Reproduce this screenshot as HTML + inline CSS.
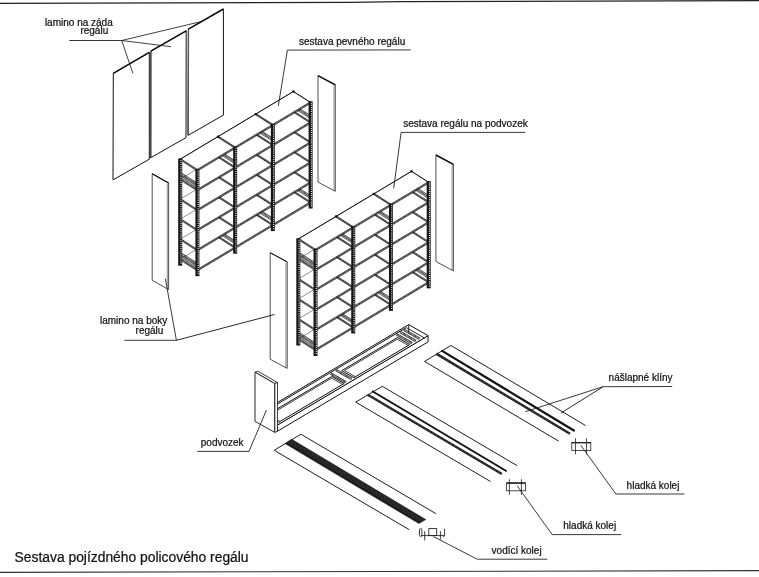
<!DOCTYPE html>
<html><head><meta charset="utf-8"><style>
html,body{margin:0;padding:0;background:#fff;}
svg{display:block;}
text{will-change:transform;}
text{font-family:"Liberation Sans",sans-serif;fill:#111;stroke:#111;stroke-width:0.22px;}
</style></head><body>
<svg width="759" height="577" viewBox="0 0 759 577">
<rect width="759" height="577" fill="#fff"/>
<polyline points="0.00,3.30 350.00,2.40 400.00,1.70 759.00,0.60" fill="none" stroke="#222" stroke-width="1.2" />
<polyline points="0.00,572.40 759.00,570.60" fill="none" stroke="#333" stroke-width="1.1" />
<polygon points="113.30,73.30 149.30,52.40 149.30,159.20 113.00,179.90" fill="#fff" stroke="#111" stroke-width="1.0" stroke-linejoin="round" />
<line x1="113.30" y1="73.30" x2="149.30" y2="52.40" stroke="#111" stroke-width="1.5" />
<polygon points="150.80,51.20 186.20,30.80 186.00,137.60 150.60,157.80" fill="#fff" stroke="#111" stroke-width="1.0" stroke-linejoin="round" />
<line x1="150.80" y1="51.20" x2="186.20" y2="30.80" stroke="#111" stroke-width="1.5" />
<line x1="150.90" y1="52.00" x2="150.90" y2="157.00" stroke="#555" stroke-width="1.3" />
<polygon points="188.40,29.10 223.40,9.00 223.40,115.10 188.00,135.40" fill="#fff" stroke="#111" stroke-width="1.0" stroke-linejoin="round" />
<line x1="188.40" y1="29.10" x2="223.40" y2="9.00" stroke="#111" stroke-width="1.5" />
<line x1="188.50" y1="30.00" x2="188.20" y2="135.00" stroke="#555" stroke-width="1.3" />
<polygon points="152.20,173.70 168.60,183.10 168.60,289.60 152.20,280.20" fill="#fff" stroke="#222" stroke-width="0.8" stroke-linejoin="round" />
<line x1="167.30" y1="183.60" x2="167.30" y2="289.10" stroke="#444" stroke-width="0.6" />
<line x1="152.20" y1="173.70" x2="168.60" y2="183.10" stroke="#111" stroke-width="1.1" />
<polygon points="318.00,75.60 335.30,84.80 335.30,191.30 318.00,182.10" fill="#fff" stroke="#222" stroke-width="0.8" stroke-linejoin="round" />
<line x1="334.00" y1="85.30" x2="334.00" y2="190.80" stroke="#444" stroke-width="0.6" />
<line x1="318.00" y1="75.60" x2="335.30" y2="84.80" stroke="#111" stroke-width="1.5" />
<polygon points="197.40,270.20 235.13,247.64 217.93,236.64 180.20,259.20" fill="#fff" stroke="#333" stroke-width="0.55" stroke-linejoin="round" />
<polygon points="235.13,247.64 272.86,225.08 255.66,214.08 217.93,236.64" fill="#fff" stroke="#333" stroke-width="0.55" stroke-linejoin="round" />
<polygon points="272.86,225.08 310.59,202.52 293.39,191.52 255.66,214.08" fill="#fff" stroke="#333" stroke-width="0.55" stroke-linejoin="round" />
<line x1="197.40" y1="270.20" x2="180.20" y2="259.20" stroke="#333" stroke-width="0.9099999999999999" stroke-dasharray="0.7 0.7"/>
<line x1="197.75" y1="269.65" x2="180.55" y2="258.65" stroke="#111" stroke-width="0.7" />
<line x1="197.05" y1="270.75" x2="179.85" y2="259.75" stroke="#111" stroke-width="0.7" />
<line x1="235.13" y1="247.64" x2="217.93" y2="236.64" stroke="#333" stroke-width="0.9099999999999999" stroke-dasharray="0.7 0.7"/>
<line x1="235.48" y1="247.09" x2="218.28" y2="236.09" stroke="#111" stroke-width="0.7" />
<line x1="234.78" y1="248.19" x2="217.58" y2="237.19" stroke="#111" stroke-width="0.7" />
<line x1="272.86" y1="225.08" x2="255.66" y2="214.08" stroke="#333" stroke-width="0.9099999999999999" stroke-dasharray="0.7 0.7"/>
<line x1="273.21" y1="224.53" x2="256.01" y2="213.53" stroke="#111" stroke-width="0.7" />
<line x1="272.51" y1="225.63" x2="255.31" y2="214.63" stroke="#111" stroke-width="0.7" />
<line x1="310.59" y1="202.52" x2="293.39" y2="191.52" stroke="#333" stroke-width="0.9099999999999999" stroke-dasharray="0.7 0.7"/>
<line x1="310.94" y1="201.97" x2="293.74" y2="190.97" stroke="#111" stroke-width="0.7" />
<line x1="310.24" y1="203.07" x2="293.04" y2="192.07" stroke="#111" stroke-width="0.7" />
<line x1="197.40" y1="270.20" x2="235.13" y2="247.64" stroke="#333" stroke-width="1.0499999999999998" stroke-dasharray="0.7 0.7"/>
<line x1="197.78" y1="270.84" x2="235.51" y2="248.28" stroke="#111" stroke-width="0.7" />
<line x1="197.02" y1="269.56" x2="234.75" y2="247.00" stroke="#111" stroke-width="0.7" />
<line x1="235.13" y1="247.64" x2="272.86" y2="225.08" stroke="#333" stroke-width="1.0499999999999998" stroke-dasharray="0.7 0.7"/>
<line x1="235.51" y1="248.28" x2="273.24" y2="225.72" stroke="#111" stroke-width="0.7" />
<line x1="234.75" y1="247.00" x2="272.48" y2="224.44" stroke="#111" stroke-width="0.7" />
<line x1="272.86" y1="225.08" x2="310.59" y2="202.52" stroke="#333" stroke-width="1.0499999999999998" stroke-dasharray="0.7 0.7"/>
<line x1="273.24" y1="225.72" x2="310.97" y2="203.16" stroke="#111" stroke-width="0.7" />
<line x1="272.48" y1="224.44" x2="310.21" y2="201.88" stroke="#111" stroke-width="0.7" />
<line x1="197.40" y1="264.20" x2="180.20" y2="253.20" stroke="#222" stroke-width="1.26" stroke-dasharray="0.7 0.7"/>
<line x1="197.88" y1="263.44" x2="180.68" y2="252.44" stroke="#111" stroke-width="0.7" />
<line x1="196.92" y1="264.96" x2="179.72" y2="253.96" stroke="#111" stroke-width="0.7" />
<line x1="197.40" y1="267.20" x2="180.20" y2="256.20" stroke="#444" stroke-width="1.26" stroke-dasharray="0.7 0.7"/>
<line x1="197.88" y1="266.44" x2="180.68" y2="255.44" stroke="#111" stroke-width="0.6" />
<line x1="196.92" y1="267.96" x2="179.72" y2="256.96" stroke="#111" stroke-width="0.6" />
<line x1="235.13" y1="241.64" x2="217.93" y2="230.64" stroke="#222" stroke-width="1.1199999999999999" stroke-dasharray="0.7 0.7"/>
<line x1="235.56" y1="240.97" x2="218.36" y2="229.97" stroke="#111" stroke-width="0.7" />
<line x1="234.70" y1="242.31" x2="217.50" y2="231.31" stroke="#111" stroke-width="0.7" />
<line x1="235.13" y1="243.84" x2="217.93" y2="232.84" stroke="#111" stroke-width="0.7" />
<line x1="272.86" y1="219.08" x2="255.66" y2="208.08" stroke="#222" stroke-width="1.1199999999999999" stroke-dasharray="0.7 0.7"/>
<line x1="273.29" y1="218.41" x2="256.09" y2="207.41" stroke="#111" stroke-width="0.7" />
<line x1="272.43" y1="219.75" x2="255.23" y2="208.75" stroke="#111" stroke-width="0.7" />
<line x1="272.86" y1="221.28" x2="255.66" y2="210.28" stroke="#111" stroke-width="0.7" />
<line x1="310.59" y1="196.52" x2="293.39" y2="185.52" stroke="#222" stroke-width="1.1199999999999999" stroke-dasharray="0.7 0.7"/>
<line x1="311.02" y1="195.85" x2="293.82" y2="184.85" stroke="#111" stroke-width="0.7" />
<line x1="310.16" y1="197.19" x2="292.96" y2="186.19" stroke="#111" stroke-width="0.7" />
<line x1="310.59" y1="198.72" x2="293.39" y2="187.72" stroke="#111" stroke-width="0.7" />
<polygon points="197.40,250.20 235.13,227.64 217.93,216.64 180.20,239.20" fill="#fff" stroke="#333" stroke-width="0.55" stroke-linejoin="round" />
<polygon points="235.13,227.64 272.86,205.08 255.66,194.08 217.93,216.64" fill="#fff" stroke="#333" stroke-width="0.55" stroke-linejoin="round" />
<polygon points="272.86,205.08 310.59,182.52 293.39,171.52 255.66,194.08" fill="#fff" stroke="#333" stroke-width="0.55" stroke-linejoin="round" />
<line x1="197.40" y1="250.20" x2="180.20" y2="239.20" stroke="#333" stroke-width="0.9099999999999999" stroke-dasharray="0.7 0.7"/>
<line x1="197.75" y1="249.65" x2="180.55" y2="238.65" stroke="#111" stroke-width="0.7" />
<line x1="197.05" y1="250.75" x2="179.85" y2="239.75" stroke="#111" stroke-width="0.7" />
<line x1="235.13" y1="227.64" x2="217.93" y2="216.64" stroke="#333" stroke-width="0.9099999999999999" stroke-dasharray="0.7 0.7"/>
<line x1="235.48" y1="227.09" x2="218.28" y2="216.09" stroke="#111" stroke-width="0.7" />
<line x1="234.78" y1="228.19" x2="217.58" y2="217.19" stroke="#111" stroke-width="0.7" />
<line x1="272.86" y1="205.08" x2="255.66" y2="194.08" stroke="#333" stroke-width="0.9099999999999999" stroke-dasharray="0.7 0.7"/>
<line x1="273.21" y1="204.53" x2="256.01" y2="193.53" stroke="#111" stroke-width="0.7" />
<line x1="272.51" y1="205.63" x2="255.31" y2="194.63" stroke="#111" stroke-width="0.7" />
<line x1="310.59" y1="182.52" x2="293.39" y2="171.52" stroke="#333" stroke-width="0.9099999999999999" stroke-dasharray="0.7 0.7"/>
<line x1="310.94" y1="181.97" x2="293.74" y2="170.97" stroke="#111" stroke-width="0.7" />
<line x1="310.24" y1="183.07" x2="293.04" y2="172.07" stroke="#111" stroke-width="0.7" />
<line x1="197.40" y1="250.20" x2="235.13" y2="227.64" stroke="#333" stroke-width="1.0499999999999998" stroke-dasharray="0.7 0.7"/>
<line x1="197.78" y1="250.84" x2="235.51" y2="228.28" stroke="#111" stroke-width="0.7" />
<line x1="197.02" y1="249.56" x2="234.75" y2="227.00" stroke="#111" stroke-width="0.7" />
<line x1="235.13" y1="227.64" x2="272.86" y2="205.08" stroke="#333" stroke-width="1.0499999999999998" stroke-dasharray="0.7 0.7"/>
<line x1="235.51" y1="228.28" x2="273.24" y2="205.72" stroke="#111" stroke-width="0.7" />
<line x1="234.75" y1="227.00" x2="272.48" y2="204.44" stroke="#111" stroke-width="0.7" />
<line x1="272.86" y1="205.08" x2="310.59" y2="182.52" stroke="#333" stroke-width="1.0499999999999998" stroke-dasharray="0.7 0.7"/>
<line x1="273.24" y1="205.72" x2="310.97" y2="183.16" stroke="#111" stroke-width="0.7" />
<line x1="272.48" y1="204.44" x2="310.21" y2="181.88" stroke="#111" stroke-width="0.7" />
<polygon points="197.40,230.20 235.13,207.64 217.93,196.64 180.20,219.20" fill="#fff" stroke="#333" stroke-width="0.55" stroke-linejoin="round" />
<polygon points="235.13,207.64 272.86,185.08 255.66,174.08 217.93,196.64" fill="#fff" stroke="#333" stroke-width="0.55" stroke-linejoin="round" />
<polygon points="272.86,185.08 310.59,162.52 293.39,151.52 255.66,174.08" fill="#fff" stroke="#333" stroke-width="0.55" stroke-linejoin="round" />
<line x1="197.40" y1="230.20" x2="180.20" y2="219.20" stroke="#333" stroke-width="0.9099999999999999" stroke-dasharray="0.7 0.7"/>
<line x1="197.75" y1="229.65" x2="180.55" y2="218.65" stroke="#111" stroke-width="0.7" />
<line x1="197.05" y1="230.75" x2="179.85" y2="219.75" stroke="#111" stroke-width="0.7" />
<line x1="235.13" y1="207.64" x2="217.93" y2="196.64" stroke="#333" stroke-width="0.9099999999999999" stroke-dasharray="0.7 0.7"/>
<line x1="235.48" y1="207.09" x2="218.28" y2="196.09" stroke="#111" stroke-width="0.7" />
<line x1="234.78" y1="208.19" x2="217.58" y2="197.19" stroke="#111" stroke-width="0.7" />
<line x1="272.86" y1="185.08" x2="255.66" y2="174.08" stroke="#333" stroke-width="0.9099999999999999" stroke-dasharray="0.7 0.7"/>
<line x1="273.21" y1="184.53" x2="256.01" y2="173.53" stroke="#111" stroke-width="0.7" />
<line x1="272.51" y1="185.63" x2="255.31" y2="174.63" stroke="#111" stroke-width="0.7" />
<line x1="310.59" y1="162.52" x2="293.39" y2="151.52" stroke="#333" stroke-width="0.9099999999999999" stroke-dasharray="0.7 0.7"/>
<line x1="310.94" y1="161.97" x2="293.74" y2="150.97" stroke="#111" stroke-width="0.7" />
<line x1="310.24" y1="163.07" x2="293.04" y2="152.07" stroke="#111" stroke-width="0.7" />
<line x1="197.40" y1="230.20" x2="235.13" y2="207.64" stroke="#333" stroke-width="1.0499999999999998" stroke-dasharray="0.7 0.7"/>
<line x1="197.78" y1="230.84" x2="235.51" y2="208.28" stroke="#111" stroke-width="0.7" />
<line x1="197.02" y1="229.56" x2="234.75" y2="207.00" stroke="#111" stroke-width="0.7" />
<line x1="235.13" y1="207.64" x2="272.86" y2="185.08" stroke="#333" stroke-width="1.0499999999999998" stroke-dasharray="0.7 0.7"/>
<line x1="235.51" y1="208.28" x2="273.24" y2="185.72" stroke="#111" stroke-width="0.7" />
<line x1="234.75" y1="207.00" x2="272.48" y2="184.44" stroke="#111" stroke-width="0.7" />
<line x1="272.86" y1="185.08" x2="310.59" y2="162.52" stroke="#333" stroke-width="1.0499999999999998" stroke-dasharray="0.7 0.7"/>
<line x1="273.24" y1="185.72" x2="310.97" y2="163.16" stroke="#111" stroke-width="0.7" />
<line x1="272.48" y1="184.44" x2="310.21" y2="161.88" stroke="#111" stroke-width="0.7" />
<polygon points="197.40,210.20 235.13,187.64 217.93,176.64 180.20,199.20" fill="#fff" stroke="#333" stroke-width="0.55" stroke-linejoin="round" />
<polygon points="235.13,187.64 272.86,165.08 255.66,154.08 217.93,176.64" fill="#fff" stroke="#333" stroke-width="0.55" stroke-linejoin="round" />
<polygon points="272.86,165.08 310.59,142.52 293.39,131.52 255.66,154.08" fill="#fff" stroke="#333" stroke-width="0.55" stroke-linejoin="round" />
<line x1="197.40" y1="210.20" x2="180.20" y2="199.20" stroke="#333" stroke-width="0.9099999999999999" stroke-dasharray="0.7 0.7"/>
<line x1="197.75" y1="209.65" x2="180.55" y2="198.65" stroke="#111" stroke-width="0.7" />
<line x1="197.05" y1="210.75" x2="179.85" y2="199.75" stroke="#111" stroke-width="0.7" />
<line x1="235.13" y1="187.64" x2="217.93" y2="176.64" stroke="#333" stroke-width="0.9099999999999999" stroke-dasharray="0.7 0.7"/>
<line x1="235.48" y1="187.09" x2="218.28" y2="176.09" stroke="#111" stroke-width="0.7" />
<line x1="234.78" y1="188.19" x2="217.58" y2="177.19" stroke="#111" stroke-width="0.7" />
<line x1="272.86" y1="165.08" x2="255.66" y2="154.08" stroke="#333" stroke-width="0.9099999999999999" stroke-dasharray="0.7 0.7"/>
<line x1="273.21" y1="164.53" x2="256.01" y2="153.53" stroke="#111" stroke-width="0.7" />
<line x1="272.51" y1="165.63" x2="255.31" y2="154.63" stroke="#111" stroke-width="0.7" />
<line x1="310.59" y1="142.52" x2="293.39" y2="131.52" stroke="#333" stroke-width="0.9099999999999999" stroke-dasharray="0.7 0.7"/>
<line x1="310.94" y1="141.97" x2="293.74" y2="130.97" stroke="#111" stroke-width="0.7" />
<line x1="310.24" y1="143.07" x2="293.04" y2="132.07" stroke="#111" stroke-width="0.7" />
<line x1="197.40" y1="210.20" x2="235.13" y2="187.64" stroke="#333" stroke-width="1.0499999999999998" stroke-dasharray="0.7 0.7"/>
<line x1="197.78" y1="210.84" x2="235.51" y2="188.28" stroke="#111" stroke-width="0.7" />
<line x1="197.02" y1="209.56" x2="234.75" y2="187.00" stroke="#111" stroke-width="0.7" />
<line x1="235.13" y1="187.64" x2="272.86" y2="165.08" stroke="#333" stroke-width="1.0499999999999998" stroke-dasharray="0.7 0.7"/>
<line x1="235.51" y1="188.28" x2="273.24" y2="165.72" stroke="#111" stroke-width="0.7" />
<line x1="234.75" y1="187.00" x2="272.48" y2="164.44" stroke="#111" stroke-width="0.7" />
<line x1="272.86" y1="165.08" x2="310.59" y2="142.52" stroke="#333" stroke-width="1.0499999999999998" stroke-dasharray="0.7 0.7"/>
<line x1="273.24" y1="165.72" x2="310.97" y2="143.16" stroke="#111" stroke-width="0.7" />
<line x1="272.48" y1="164.44" x2="310.21" y2="141.88" stroke="#111" stroke-width="0.7" />
<polygon points="197.40,190.20 235.13,167.64 217.93,156.64 180.20,179.20" fill="#fff" stroke="#333" stroke-width="0.55" stroke-linejoin="round" />
<polygon points="235.13,167.64 272.86,145.08 255.66,134.08 217.93,156.64" fill="#fff" stroke="#333" stroke-width="0.55" stroke-linejoin="round" />
<polygon points="272.86,145.08 310.59,122.52 293.39,111.52 255.66,134.08" fill="#fff" stroke="#333" stroke-width="0.55" stroke-linejoin="round" />
<line x1="197.40" y1="190.20" x2="180.20" y2="179.20" stroke="#333" stroke-width="0.9099999999999999" stroke-dasharray="0.7 0.7"/>
<line x1="197.75" y1="189.65" x2="180.55" y2="178.65" stroke="#111" stroke-width="0.7" />
<line x1="197.05" y1="190.75" x2="179.85" y2="179.75" stroke="#111" stroke-width="0.7" />
<line x1="235.13" y1="167.64" x2="217.93" y2="156.64" stroke="#333" stroke-width="0.9099999999999999" stroke-dasharray="0.7 0.7"/>
<line x1="235.48" y1="167.09" x2="218.28" y2="156.09" stroke="#111" stroke-width="0.7" />
<line x1="234.78" y1="168.19" x2="217.58" y2="157.19" stroke="#111" stroke-width="0.7" />
<line x1="272.86" y1="145.08" x2="255.66" y2="134.08" stroke="#333" stroke-width="0.9099999999999999" stroke-dasharray="0.7 0.7"/>
<line x1="273.21" y1="144.53" x2="256.01" y2="133.53" stroke="#111" stroke-width="0.7" />
<line x1="272.51" y1="145.63" x2="255.31" y2="134.63" stroke="#111" stroke-width="0.7" />
<line x1="310.59" y1="122.52" x2="293.39" y2="111.52" stroke="#333" stroke-width="0.9099999999999999" stroke-dasharray="0.7 0.7"/>
<line x1="310.94" y1="121.97" x2="293.74" y2="110.97" stroke="#111" stroke-width="0.7" />
<line x1="310.24" y1="123.07" x2="293.04" y2="112.07" stroke="#111" stroke-width="0.7" />
<line x1="197.40" y1="190.20" x2="235.13" y2="167.64" stroke="#333" stroke-width="1.0499999999999998" stroke-dasharray="0.7 0.7"/>
<line x1="197.78" y1="190.84" x2="235.51" y2="168.28" stroke="#111" stroke-width="0.7" />
<line x1="197.02" y1="189.56" x2="234.75" y2="167.00" stroke="#111" stroke-width="0.7" />
<line x1="235.13" y1="167.64" x2="272.86" y2="145.08" stroke="#333" stroke-width="1.0499999999999998" stroke-dasharray="0.7 0.7"/>
<line x1="235.51" y1="168.28" x2="273.24" y2="145.72" stroke="#111" stroke-width="0.7" />
<line x1="234.75" y1="167.00" x2="272.48" y2="144.44" stroke="#111" stroke-width="0.7" />
<line x1="272.86" y1="145.08" x2="310.59" y2="122.52" stroke="#333" stroke-width="1.0499999999999998" stroke-dasharray="0.7 0.7"/>
<line x1="273.24" y1="145.72" x2="310.97" y2="123.16" stroke="#111" stroke-width="0.7" />
<line x1="272.48" y1="144.44" x2="310.21" y2="121.88" stroke="#111" stroke-width="0.7" />
<line x1="197.40" y1="184.20" x2="180.20" y2="173.20" stroke="#222" stroke-width="1.26" stroke-dasharray="0.7 0.7"/>
<line x1="197.88" y1="183.44" x2="180.68" y2="172.44" stroke="#111" stroke-width="0.7" />
<line x1="196.92" y1="184.96" x2="179.72" y2="173.96" stroke="#111" stroke-width="0.7" />
<line x1="197.40" y1="187.20" x2="180.20" y2="176.20" stroke="#444" stroke-width="1.26" stroke-dasharray="0.7 0.7"/>
<line x1="197.88" y1="186.44" x2="180.68" y2="175.44" stroke="#111" stroke-width="0.6" />
<line x1="196.92" y1="187.96" x2="179.72" y2="176.96" stroke="#111" stroke-width="0.6" />
<line x1="235.13" y1="161.64" x2="217.93" y2="150.64" stroke="#222" stroke-width="1.1199999999999999" stroke-dasharray="0.7 0.7"/>
<line x1="235.56" y1="160.97" x2="218.36" y2="149.97" stroke="#111" stroke-width="0.7" />
<line x1="234.70" y1="162.31" x2="217.50" y2="151.31" stroke="#111" stroke-width="0.7" />
<line x1="235.13" y1="163.84" x2="217.93" y2="152.84" stroke="#111" stroke-width="0.7" />
<line x1="272.86" y1="139.08" x2="255.66" y2="128.08" stroke="#222" stroke-width="1.1199999999999999" stroke-dasharray="0.7 0.7"/>
<line x1="273.29" y1="138.41" x2="256.09" y2="127.41" stroke="#111" stroke-width="0.7" />
<line x1="272.43" y1="139.75" x2="255.23" y2="128.75" stroke="#111" stroke-width="0.7" />
<line x1="272.86" y1="141.28" x2="255.66" y2="130.28" stroke="#111" stroke-width="0.7" />
<line x1="310.59" y1="116.52" x2="293.39" y2="105.52" stroke="#222" stroke-width="1.1199999999999999" stroke-dasharray="0.7 0.7"/>
<line x1="311.02" y1="115.85" x2="293.82" y2="104.85" stroke="#111" stroke-width="0.7" />
<line x1="310.16" y1="117.19" x2="292.96" y2="106.19" stroke="#111" stroke-width="0.7" />
<line x1="310.59" y1="118.72" x2="293.39" y2="107.72" stroke="#111" stroke-width="0.7" />
<polygon points="197.40,170.20 235.13,147.64 217.93,136.64 180.20,159.20" fill="#fff" stroke="#333" stroke-width="0.55" stroke-linejoin="round" />
<polygon points="235.13,147.64 272.86,125.08 255.66,114.08 217.93,136.64" fill="#fff" stroke="#333" stroke-width="0.55" stroke-linejoin="round" />
<polygon points="272.86,125.08 310.59,102.52 293.39,91.52 255.66,114.08" fill="#fff" stroke="#333" stroke-width="0.55" stroke-linejoin="round" />
<line x1="197.40" y1="170.20" x2="180.20" y2="159.20" stroke="#333" stroke-width="0.9099999999999999" stroke-dasharray="0.7 0.7"/>
<line x1="197.75" y1="169.65" x2="180.55" y2="158.65" stroke="#111" stroke-width="0.7" />
<line x1="197.05" y1="170.75" x2="179.85" y2="159.75" stroke="#111" stroke-width="0.7" />
<line x1="235.13" y1="147.64" x2="217.93" y2="136.64" stroke="#333" stroke-width="0.9099999999999999" stroke-dasharray="0.7 0.7"/>
<line x1="235.48" y1="147.09" x2="218.28" y2="136.09" stroke="#111" stroke-width="0.7" />
<line x1="234.78" y1="148.19" x2="217.58" y2="137.19" stroke="#111" stroke-width="0.7" />
<line x1="272.86" y1="125.08" x2="255.66" y2="114.08" stroke="#333" stroke-width="0.9099999999999999" stroke-dasharray="0.7 0.7"/>
<line x1="273.21" y1="124.53" x2="256.01" y2="113.53" stroke="#111" stroke-width="0.7" />
<line x1="272.51" y1="125.63" x2="255.31" y2="114.63" stroke="#111" stroke-width="0.7" />
<line x1="197.40" y1="170.20" x2="235.13" y2="147.64" stroke="#333" stroke-width="1.0499999999999998" stroke-dasharray="0.7 0.7"/>
<line x1="197.78" y1="170.84" x2="235.51" y2="148.28" stroke="#111" stroke-width="0.7" />
<line x1="197.02" y1="169.56" x2="234.75" y2="147.00" stroke="#111" stroke-width="0.7" />
<line x1="235.13" y1="147.64" x2="272.86" y2="125.08" stroke="#333" stroke-width="1.0499999999999998" stroke-dasharray="0.7 0.7"/>
<line x1="235.51" y1="148.28" x2="273.24" y2="125.72" stroke="#111" stroke-width="0.7" />
<line x1="234.75" y1="147.00" x2="272.48" y2="124.44" stroke="#111" stroke-width="0.7" />
<line x1="272.86" y1="125.08" x2="310.59" y2="102.52" stroke="#333" stroke-width="1.0499999999999998" stroke-dasharray="0.7 0.7"/>
<line x1="273.24" y1="125.72" x2="310.97" y2="103.16" stroke="#111" stroke-width="0.7" />
<line x1="272.48" y1="124.44" x2="310.21" y2="101.88" stroke="#111" stroke-width="0.7" />
<line x1="180.20" y1="159.20" x2="293.39" y2="91.52" stroke="#111" stroke-width="1.0" />
<line x1="293.39" y1="91.52" x2="310.59" y2="102.52" stroke="#111" stroke-width="1.0" />
<rect x="178.20" y="158.40" width="4.0" height="107.30" fill="#161616"/>
<line x1="181.00" y1="159.90" x2="181.00" y2="264.70" stroke="#fff" stroke-width="1.1" stroke-dasharray="1.0 1.1"/>
<rect x="195.40" y="168.90" width="4.0" height="107.30" fill="#161616"/>
<line x1="198.20" y1="170.40" x2="198.20" y2="275.20" stroke="#fff" stroke-width="1.1" stroke-dasharray="1.0 1.1"/>
<rect x="233.13" y="146.34" width="4.0" height="107.30" fill="#161616"/>
<line x1="235.93" y1="147.84" x2="235.93" y2="252.64" stroke="#fff" stroke-width="1.1" stroke-dasharray="1.0 1.1"/>
<rect x="270.86" y="123.78" width="4.0" height="107.30" fill="#161616"/>
<line x1="273.66" y1="125.28" x2="273.66" y2="230.08" stroke="#fff" stroke-width="1.1" stroke-dasharray="1.0 1.1"/>
<rect x="308.59" y="101.22" width="4.0" height="107.30" fill="#161616"/>
<line x1="311.39" y1="102.72" x2="311.39" y2="207.52" stroke="#fff" stroke-width="1.1" stroke-dasharray="1.0 1.1"/>
<circle cx="217.93" cy="136.64" r="1.2" fill="#111"/>
<circle cx="255.66" cy="114.08" r="1.2" fill="#111"/>
<circle cx="293.39" cy="91.52" r="1.2" fill="#111"/>
<polygon points="270.20,252.70 287.20,261.90 287.20,368.40 270.20,359.20" fill="#fff" stroke="#222" stroke-width="0.8" stroke-linejoin="round" />
<line x1="285.90" y1="262.40" x2="285.90" y2="367.90" stroke="#444" stroke-width="0.6" />
<line x1="270.20" y1="252.70" x2="287.20" y2="261.90" stroke="#111" stroke-width="1.0" />
<polygon points="435.90,155.00 453.40,164.40 453.40,270.90 435.90,261.50" fill="#fff" stroke="#222" stroke-width="0.8" stroke-linejoin="round" />
<line x1="452.10" y1="164.90" x2="452.10" y2="270.40" stroke="#444" stroke-width="0.6" />
<line x1="435.90" y1="155.00" x2="453.40" y2="164.40" stroke="#111" stroke-width="1.5" />
<polygon points="315.50,350.00 353.23,327.44 336.03,316.44 298.30,339.00" fill="#fff" stroke="#333" stroke-width="0.55" stroke-linejoin="round" />
<polygon points="353.23,327.44 390.96,304.88 373.76,293.88 336.03,316.44" fill="#fff" stroke="#333" stroke-width="0.55" stroke-linejoin="round" />
<polygon points="390.96,304.88 428.69,282.32 411.49,271.32 373.76,293.88" fill="#fff" stroke="#333" stroke-width="0.55" stroke-linejoin="round" />
<line x1="315.50" y1="350.00" x2="298.30" y2="339.00" stroke="#333" stroke-width="0.9099999999999999" stroke-dasharray="0.7 0.7"/>
<line x1="315.85" y1="349.45" x2="298.65" y2="338.45" stroke="#111" stroke-width="0.7" />
<line x1="315.15" y1="350.55" x2="297.95" y2="339.55" stroke="#111" stroke-width="0.7" />
<line x1="353.23" y1="327.44" x2="336.03" y2="316.44" stroke="#333" stroke-width="0.9099999999999999" stroke-dasharray="0.7 0.7"/>
<line x1="353.58" y1="326.89" x2="336.38" y2="315.89" stroke="#111" stroke-width="0.7" />
<line x1="352.88" y1="327.99" x2="335.68" y2="316.99" stroke="#111" stroke-width="0.7" />
<line x1="390.96" y1="304.88" x2="373.76" y2="293.88" stroke="#333" stroke-width="0.9099999999999999" stroke-dasharray="0.7 0.7"/>
<line x1="391.31" y1="304.33" x2="374.11" y2="293.33" stroke="#111" stroke-width="0.7" />
<line x1="390.61" y1="305.43" x2="373.41" y2="294.43" stroke="#111" stroke-width="0.7" />
<line x1="428.69" y1="282.32" x2="411.49" y2="271.32" stroke="#333" stroke-width="0.9099999999999999" stroke-dasharray="0.7 0.7"/>
<line x1="429.04" y1="281.77" x2="411.84" y2="270.77" stroke="#111" stroke-width="0.7" />
<line x1="428.34" y1="282.87" x2="411.14" y2="271.87" stroke="#111" stroke-width="0.7" />
<line x1="315.50" y1="350.00" x2="353.23" y2="327.44" stroke="#333" stroke-width="1.0499999999999998" stroke-dasharray="0.7 0.7"/>
<line x1="315.88" y1="350.64" x2="353.61" y2="328.08" stroke="#111" stroke-width="0.7" />
<line x1="315.12" y1="349.36" x2="352.85" y2="326.80" stroke="#111" stroke-width="0.7" />
<line x1="353.23" y1="327.44" x2="390.96" y2="304.88" stroke="#333" stroke-width="1.0499999999999998" stroke-dasharray="0.7 0.7"/>
<line x1="353.61" y1="328.08" x2="391.34" y2="305.52" stroke="#111" stroke-width="0.7" />
<line x1="352.85" y1="326.80" x2="390.58" y2="304.24" stroke="#111" stroke-width="0.7" />
<line x1="390.96" y1="304.88" x2="428.69" y2="282.32" stroke="#333" stroke-width="1.0499999999999998" stroke-dasharray="0.7 0.7"/>
<line x1="391.34" y1="305.52" x2="429.07" y2="282.96" stroke="#111" stroke-width="0.7" />
<line x1="390.58" y1="304.24" x2="428.31" y2="281.68" stroke="#111" stroke-width="0.7" />
<line x1="315.50" y1="344.00" x2="298.30" y2="333.00" stroke="#222" stroke-width="1.26" stroke-dasharray="0.7 0.7"/>
<line x1="315.98" y1="343.24" x2="298.78" y2="332.24" stroke="#111" stroke-width="0.7" />
<line x1="315.02" y1="344.76" x2="297.82" y2="333.76" stroke="#111" stroke-width="0.7" />
<line x1="315.50" y1="347.00" x2="298.30" y2="336.00" stroke="#444" stroke-width="1.26" stroke-dasharray="0.7 0.7"/>
<line x1="315.98" y1="346.24" x2="298.78" y2="335.24" stroke="#111" stroke-width="0.6" />
<line x1="315.02" y1="347.76" x2="297.82" y2="336.76" stroke="#111" stroke-width="0.6" />
<line x1="353.23" y1="321.44" x2="336.03" y2="310.44" stroke="#222" stroke-width="1.1199999999999999" stroke-dasharray="0.7 0.7"/>
<line x1="353.66" y1="320.77" x2="336.46" y2="309.77" stroke="#111" stroke-width="0.7" />
<line x1="352.80" y1="322.11" x2="335.60" y2="311.11" stroke="#111" stroke-width="0.7" />
<line x1="353.23" y1="323.64" x2="336.03" y2="312.64" stroke="#111" stroke-width="0.7" />
<line x1="390.96" y1="298.88" x2="373.76" y2="287.88" stroke="#222" stroke-width="1.1199999999999999" stroke-dasharray="0.7 0.7"/>
<line x1="391.39" y1="298.21" x2="374.19" y2="287.21" stroke="#111" stroke-width="0.7" />
<line x1="390.53" y1="299.55" x2="373.33" y2="288.55" stroke="#111" stroke-width="0.7" />
<line x1="390.96" y1="301.08" x2="373.76" y2="290.08" stroke="#111" stroke-width="0.7" />
<line x1="428.69" y1="276.32" x2="411.49" y2="265.32" stroke="#222" stroke-width="1.1199999999999999" stroke-dasharray="0.7 0.7"/>
<line x1="429.12" y1="275.65" x2="411.92" y2="264.65" stroke="#111" stroke-width="0.7" />
<line x1="428.26" y1="276.99" x2="411.06" y2="265.99" stroke="#111" stroke-width="0.7" />
<line x1="428.69" y1="278.52" x2="411.49" y2="267.52" stroke="#111" stroke-width="0.7" />
<polygon points="315.50,330.00 353.23,307.44 336.03,296.44 298.30,319.00" fill="#fff" stroke="#333" stroke-width="0.55" stroke-linejoin="round" />
<polygon points="353.23,307.44 390.96,284.88 373.76,273.88 336.03,296.44" fill="#fff" stroke="#333" stroke-width="0.55" stroke-linejoin="round" />
<polygon points="390.96,284.88 428.69,262.32 411.49,251.32 373.76,273.88" fill="#fff" stroke="#333" stroke-width="0.55" stroke-linejoin="round" />
<line x1="315.50" y1="330.00" x2="298.30" y2="319.00" stroke="#333" stroke-width="0.9099999999999999" stroke-dasharray="0.7 0.7"/>
<line x1="315.85" y1="329.45" x2="298.65" y2="318.45" stroke="#111" stroke-width="0.7" />
<line x1="315.15" y1="330.55" x2="297.95" y2="319.55" stroke="#111" stroke-width="0.7" />
<line x1="353.23" y1="307.44" x2="336.03" y2="296.44" stroke="#333" stroke-width="0.9099999999999999" stroke-dasharray="0.7 0.7"/>
<line x1="353.58" y1="306.89" x2="336.38" y2="295.89" stroke="#111" stroke-width="0.7" />
<line x1="352.88" y1="307.99" x2="335.68" y2="296.99" stroke="#111" stroke-width="0.7" />
<line x1="390.96" y1="284.88" x2="373.76" y2="273.88" stroke="#333" stroke-width="0.9099999999999999" stroke-dasharray="0.7 0.7"/>
<line x1="391.31" y1="284.33" x2="374.11" y2="273.33" stroke="#111" stroke-width="0.7" />
<line x1="390.61" y1="285.43" x2="373.41" y2="274.43" stroke="#111" stroke-width="0.7" />
<line x1="428.69" y1="262.32" x2="411.49" y2="251.32" stroke="#333" stroke-width="0.9099999999999999" stroke-dasharray="0.7 0.7"/>
<line x1="429.04" y1="261.77" x2="411.84" y2="250.77" stroke="#111" stroke-width="0.7" />
<line x1="428.34" y1="262.87" x2="411.14" y2="251.87" stroke="#111" stroke-width="0.7" />
<line x1="315.50" y1="330.00" x2="353.23" y2="307.44" stroke="#333" stroke-width="1.0499999999999998" stroke-dasharray="0.7 0.7"/>
<line x1="315.88" y1="330.64" x2="353.61" y2="308.08" stroke="#111" stroke-width="0.7" />
<line x1="315.12" y1="329.36" x2="352.85" y2="306.80" stroke="#111" stroke-width="0.7" />
<line x1="353.23" y1="307.44" x2="390.96" y2="284.88" stroke="#333" stroke-width="1.0499999999999998" stroke-dasharray="0.7 0.7"/>
<line x1="353.61" y1="308.08" x2="391.34" y2="285.52" stroke="#111" stroke-width="0.7" />
<line x1="352.85" y1="306.80" x2="390.58" y2="284.24" stroke="#111" stroke-width="0.7" />
<line x1="390.96" y1="284.88" x2="428.69" y2="262.32" stroke="#333" stroke-width="1.0499999999999998" stroke-dasharray="0.7 0.7"/>
<line x1="391.34" y1="285.52" x2="429.07" y2="262.96" stroke="#111" stroke-width="0.7" />
<line x1="390.58" y1="284.24" x2="428.31" y2="261.68" stroke="#111" stroke-width="0.7" />
<polygon points="315.50,310.00 353.23,287.44 336.03,276.44 298.30,299.00" fill="#fff" stroke="#333" stroke-width="0.55" stroke-linejoin="round" />
<polygon points="353.23,287.44 390.96,264.88 373.76,253.88 336.03,276.44" fill="#fff" stroke="#333" stroke-width="0.55" stroke-linejoin="round" />
<polygon points="390.96,264.88 428.69,242.32 411.49,231.32 373.76,253.88" fill="#fff" stroke="#333" stroke-width="0.55" stroke-linejoin="round" />
<line x1="315.50" y1="310.00" x2="298.30" y2="299.00" stroke="#333" stroke-width="0.9099999999999999" stroke-dasharray="0.7 0.7"/>
<line x1="315.85" y1="309.45" x2="298.65" y2="298.45" stroke="#111" stroke-width="0.7" />
<line x1="315.15" y1="310.55" x2="297.95" y2="299.55" stroke="#111" stroke-width="0.7" />
<line x1="353.23" y1="287.44" x2="336.03" y2="276.44" stroke="#333" stroke-width="0.9099999999999999" stroke-dasharray="0.7 0.7"/>
<line x1="353.58" y1="286.89" x2="336.38" y2="275.89" stroke="#111" stroke-width="0.7" />
<line x1="352.88" y1="287.99" x2="335.68" y2="276.99" stroke="#111" stroke-width="0.7" />
<line x1="390.96" y1="264.88" x2="373.76" y2="253.88" stroke="#333" stroke-width="0.9099999999999999" stroke-dasharray="0.7 0.7"/>
<line x1="391.31" y1="264.33" x2="374.11" y2="253.33" stroke="#111" stroke-width="0.7" />
<line x1="390.61" y1="265.43" x2="373.41" y2="254.43" stroke="#111" stroke-width="0.7" />
<line x1="428.69" y1="242.32" x2="411.49" y2="231.32" stroke="#333" stroke-width="0.9099999999999999" stroke-dasharray="0.7 0.7"/>
<line x1="429.04" y1="241.77" x2="411.84" y2="230.77" stroke="#111" stroke-width="0.7" />
<line x1="428.34" y1="242.87" x2="411.14" y2="231.87" stroke="#111" stroke-width="0.7" />
<line x1="315.50" y1="310.00" x2="353.23" y2="287.44" stroke="#333" stroke-width="1.0499999999999998" stroke-dasharray="0.7 0.7"/>
<line x1="315.88" y1="310.64" x2="353.61" y2="288.08" stroke="#111" stroke-width="0.7" />
<line x1="315.12" y1="309.36" x2="352.85" y2="286.80" stroke="#111" stroke-width="0.7" />
<line x1="353.23" y1="287.44" x2="390.96" y2="264.88" stroke="#333" stroke-width="1.0499999999999998" stroke-dasharray="0.7 0.7"/>
<line x1="353.61" y1="288.08" x2="391.34" y2="265.52" stroke="#111" stroke-width="0.7" />
<line x1="352.85" y1="286.80" x2="390.58" y2="264.24" stroke="#111" stroke-width="0.7" />
<line x1="390.96" y1="264.88" x2="428.69" y2="242.32" stroke="#333" stroke-width="1.0499999999999998" stroke-dasharray="0.7 0.7"/>
<line x1="391.34" y1="265.52" x2="429.07" y2="242.96" stroke="#111" stroke-width="0.7" />
<line x1="390.58" y1="264.24" x2="428.31" y2="241.68" stroke="#111" stroke-width="0.7" />
<polygon points="315.50,290.00 353.23,267.44 336.03,256.44 298.30,279.00" fill="#fff" stroke="#333" stroke-width="0.55" stroke-linejoin="round" />
<polygon points="353.23,267.44 390.96,244.88 373.76,233.88 336.03,256.44" fill="#fff" stroke="#333" stroke-width="0.55" stroke-linejoin="round" />
<polygon points="390.96,244.88 428.69,222.32 411.49,211.32 373.76,233.88" fill="#fff" stroke="#333" stroke-width="0.55" stroke-linejoin="round" />
<line x1="315.50" y1="290.00" x2="298.30" y2="279.00" stroke="#333" stroke-width="0.9099999999999999" stroke-dasharray="0.7 0.7"/>
<line x1="315.85" y1="289.45" x2="298.65" y2="278.45" stroke="#111" stroke-width="0.7" />
<line x1="315.15" y1="290.55" x2="297.95" y2="279.55" stroke="#111" stroke-width="0.7" />
<line x1="353.23" y1="267.44" x2="336.03" y2="256.44" stroke="#333" stroke-width="0.9099999999999999" stroke-dasharray="0.7 0.7"/>
<line x1="353.58" y1="266.89" x2="336.38" y2="255.89" stroke="#111" stroke-width="0.7" />
<line x1="352.88" y1="267.99" x2="335.68" y2="256.99" stroke="#111" stroke-width="0.7" />
<line x1="390.96" y1="244.88" x2="373.76" y2="233.88" stroke="#333" stroke-width="0.9099999999999999" stroke-dasharray="0.7 0.7"/>
<line x1="391.31" y1="244.33" x2="374.11" y2="233.33" stroke="#111" stroke-width="0.7" />
<line x1="390.61" y1="245.43" x2="373.41" y2="234.43" stroke="#111" stroke-width="0.7" />
<line x1="428.69" y1="222.32" x2="411.49" y2="211.32" stroke="#333" stroke-width="0.9099999999999999" stroke-dasharray="0.7 0.7"/>
<line x1="429.04" y1="221.77" x2="411.84" y2="210.77" stroke="#111" stroke-width="0.7" />
<line x1="428.34" y1="222.87" x2="411.14" y2="211.87" stroke="#111" stroke-width="0.7" />
<line x1="315.50" y1="290.00" x2="353.23" y2="267.44" stroke="#333" stroke-width="1.0499999999999998" stroke-dasharray="0.7 0.7"/>
<line x1="315.88" y1="290.64" x2="353.61" y2="268.08" stroke="#111" stroke-width="0.7" />
<line x1="315.12" y1="289.36" x2="352.85" y2="266.80" stroke="#111" stroke-width="0.7" />
<line x1="353.23" y1="267.44" x2="390.96" y2="244.88" stroke="#333" stroke-width="1.0499999999999998" stroke-dasharray="0.7 0.7"/>
<line x1="353.61" y1="268.08" x2="391.34" y2="245.52" stroke="#111" stroke-width="0.7" />
<line x1="352.85" y1="266.80" x2="390.58" y2="244.24" stroke="#111" stroke-width="0.7" />
<line x1="390.96" y1="244.88" x2="428.69" y2="222.32" stroke="#333" stroke-width="1.0499999999999998" stroke-dasharray="0.7 0.7"/>
<line x1="391.34" y1="245.52" x2="429.07" y2="222.96" stroke="#111" stroke-width="0.7" />
<line x1="390.58" y1="244.24" x2="428.31" y2="221.68" stroke="#111" stroke-width="0.7" />
<polygon points="315.50,270.00 353.23,247.44 336.03,236.44 298.30,259.00" fill="#fff" stroke="#333" stroke-width="0.55" stroke-linejoin="round" />
<polygon points="353.23,247.44 390.96,224.88 373.76,213.88 336.03,236.44" fill="#fff" stroke="#333" stroke-width="0.55" stroke-linejoin="round" />
<polygon points="390.96,224.88 428.69,202.32 411.49,191.32 373.76,213.88" fill="#fff" stroke="#333" stroke-width="0.55" stroke-linejoin="round" />
<line x1="315.50" y1="270.00" x2="298.30" y2="259.00" stroke="#333" stroke-width="0.9099999999999999" stroke-dasharray="0.7 0.7"/>
<line x1="315.85" y1="269.45" x2="298.65" y2="258.45" stroke="#111" stroke-width="0.7" />
<line x1="315.15" y1="270.55" x2="297.95" y2="259.55" stroke="#111" stroke-width="0.7" />
<line x1="353.23" y1="247.44" x2="336.03" y2="236.44" stroke="#333" stroke-width="0.9099999999999999" stroke-dasharray="0.7 0.7"/>
<line x1="353.58" y1="246.89" x2="336.38" y2="235.89" stroke="#111" stroke-width="0.7" />
<line x1="352.88" y1="247.99" x2="335.68" y2="236.99" stroke="#111" stroke-width="0.7" />
<line x1="390.96" y1="224.88" x2="373.76" y2="213.88" stroke="#333" stroke-width="0.9099999999999999" stroke-dasharray="0.7 0.7"/>
<line x1="391.31" y1="224.33" x2="374.11" y2="213.33" stroke="#111" stroke-width="0.7" />
<line x1="390.61" y1="225.43" x2="373.41" y2="214.43" stroke="#111" stroke-width="0.7" />
<line x1="428.69" y1="202.32" x2="411.49" y2="191.32" stroke="#333" stroke-width="0.9099999999999999" stroke-dasharray="0.7 0.7"/>
<line x1="429.04" y1="201.77" x2="411.84" y2="190.77" stroke="#111" stroke-width="0.7" />
<line x1="428.34" y1="202.87" x2="411.14" y2="191.87" stroke="#111" stroke-width="0.7" />
<line x1="315.50" y1="270.00" x2="353.23" y2="247.44" stroke="#333" stroke-width="1.0499999999999998" stroke-dasharray="0.7 0.7"/>
<line x1="315.88" y1="270.64" x2="353.61" y2="248.08" stroke="#111" stroke-width="0.7" />
<line x1="315.12" y1="269.36" x2="352.85" y2="246.80" stroke="#111" stroke-width="0.7" />
<line x1="353.23" y1="247.44" x2="390.96" y2="224.88" stroke="#333" stroke-width="1.0499999999999998" stroke-dasharray="0.7 0.7"/>
<line x1="353.61" y1="248.08" x2="391.34" y2="225.52" stroke="#111" stroke-width="0.7" />
<line x1="352.85" y1="246.80" x2="390.58" y2="224.24" stroke="#111" stroke-width="0.7" />
<line x1="390.96" y1="224.88" x2="428.69" y2="202.32" stroke="#333" stroke-width="1.0499999999999998" stroke-dasharray="0.7 0.7"/>
<line x1="391.34" y1="225.52" x2="429.07" y2="202.96" stroke="#111" stroke-width="0.7" />
<line x1="390.58" y1="224.24" x2="428.31" y2="201.68" stroke="#111" stroke-width="0.7" />
<line x1="315.50" y1="264.00" x2="298.30" y2="253.00" stroke="#222" stroke-width="1.26" stroke-dasharray="0.7 0.7"/>
<line x1="315.98" y1="263.24" x2="298.78" y2="252.24" stroke="#111" stroke-width="0.7" />
<line x1="315.02" y1="264.76" x2="297.82" y2="253.76" stroke="#111" stroke-width="0.7" />
<line x1="315.50" y1="267.00" x2="298.30" y2="256.00" stroke="#444" stroke-width="1.26" stroke-dasharray="0.7 0.7"/>
<line x1="315.98" y1="266.24" x2="298.78" y2="255.24" stroke="#111" stroke-width="0.6" />
<line x1="315.02" y1="267.76" x2="297.82" y2="256.76" stroke="#111" stroke-width="0.6" />
<line x1="353.23" y1="241.44" x2="336.03" y2="230.44" stroke="#222" stroke-width="1.1199999999999999" stroke-dasharray="0.7 0.7"/>
<line x1="353.66" y1="240.77" x2="336.46" y2="229.77" stroke="#111" stroke-width="0.7" />
<line x1="352.80" y1="242.11" x2="335.60" y2="231.11" stroke="#111" stroke-width="0.7" />
<line x1="353.23" y1="243.64" x2="336.03" y2="232.64" stroke="#111" stroke-width="0.7" />
<line x1="390.96" y1="218.88" x2="373.76" y2="207.88" stroke="#222" stroke-width="1.1199999999999999" stroke-dasharray="0.7 0.7"/>
<line x1="391.39" y1="218.21" x2="374.19" y2="207.21" stroke="#111" stroke-width="0.7" />
<line x1="390.53" y1="219.55" x2="373.33" y2="208.55" stroke="#111" stroke-width="0.7" />
<line x1="390.96" y1="221.08" x2="373.76" y2="210.08" stroke="#111" stroke-width="0.7" />
<line x1="428.69" y1="196.32" x2="411.49" y2="185.32" stroke="#222" stroke-width="1.1199999999999999" stroke-dasharray="0.7 0.7"/>
<line x1="429.12" y1="195.65" x2="411.92" y2="184.65" stroke="#111" stroke-width="0.7" />
<line x1="428.26" y1="196.99" x2="411.06" y2="185.99" stroke="#111" stroke-width="0.7" />
<line x1="428.69" y1="198.52" x2="411.49" y2="187.52" stroke="#111" stroke-width="0.7" />
<polygon points="315.50,250.00 353.23,227.44 336.03,216.44 298.30,239.00" fill="#fff" stroke="#333" stroke-width="0.55" stroke-linejoin="round" />
<polygon points="353.23,227.44 390.96,204.88 373.76,193.88 336.03,216.44" fill="#fff" stroke="#333" stroke-width="0.55" stroke-linejoin="round" />
<polygon points="390.96,204.88 428.69,182.32 411.49,171.32 373.76,193.88" fill="#fff" stroke="#333" stroke-width="0.55" stroke-linejoin="round" />
<line x1="315.50" y1="250.00" x2="298.30" y2="239.00" stroke="#333" stroke-width="0.9099999999999999" stroke-dasharray="0.7 0.7"/>
<line x1="315.85" y1="249.45" x2="298.65" y2="238.45" stroke="#111" stroke-width="0.7" />
<line x1="315.15" y1="250.55" x2="297.95" y2="239.55" stroke="#111" stroke-width="0.7" />
<line x1="353.23" y1="227.44" x2="336.03" y2="216.44" stroke="#333" stroke-width="0.9099999999999999" stroke-dasharray="0.7 0.7"/>
<line x1="353.58" y1="226.89" x2="336.38" y2="215.89" stroke="#111" stroke-width="0.7" />
<line x1="352.88" y1="227.99" x2="335.68" y2="216.99" stroke="#111" stroke-width="0.7" />
<line x1="390.96" y1="204.88" x2="373.76" y2="193.88" stroke="#333" stroke-width="0.9099999999999999" stroke-dasharray="0.7 0.7"/>
<line x1="391.31" y1="204.33" x2="374.11" y2="193.33" stroke="#111" stroke-width="0.7" />
<line x1="390.61" y1="205.43" x2="373.41" y2="194.43" stroke="#111" stroke-width="0.7" />
<line x1="315.50" y1="250.00" x2="353.23" y2="227.44" stroke="#333" stroke-width="1.0499999999999998" stroke-dasharray="0.7 0.7"/>
<line x1="315.88" y1="250.64" x2="353.61" y2="228.08" stroke="#111" stroke-width="0.7" />
<line x1="315.12" y1="249.36" x2="352.85" y2="226.80" stroke="#111" stroke-width="0.7" />
<line x1="353.23" y1="227.44" x2="390.96" y2="204.88" stroke="#333" stroke-width="1.0499999999999998" stroke-dasharray="0.7 0.7"/>
<line x1="353.61" y1="228.08" x2="391.34" y2="205.52" stroke="#111" stroke-width="0.7" />
<line x1="352.85" y1="226.80" x2="390.58" y2="204.24" stroke="#111" stroke-width="0.7" />
<line x1="390.96" y1="204.88" x2="428.69" y2="182.32" stroke="#333" stroke-width="1.0499999999999998" stroke-dasharray="0.7 0.7"/>
<line x1="391.34" y1="205.52" x2="429.07" y2="182.96" stroke="#111" stroke-width="0.7" />
<line x1="390.58" y1="204.24" x2="428.31" y2="181.68" stroke="#111" stroke-width="0.7" />
<line x1="298.30" y1="239.00" x2="411.49" y2="171.32" stroke="#111" stroke-width="1.0" />
<line x1="411.49" y1="171.32" x2="428.69" y2="182.32" stroke="#111" stroke-width="1.0" />
<rect x="296.30" y="238.20" width="4.0" height="107.30" fill="#161616"/>
<line x1="299.10" y1="239.70" x2="299.10" y2="344.50" stroke="#fff" stroke-width="1.1" stroke-dasharray="1.0 1.1"/>
<rect x="313.50" y="248.70" width="4.0" height="107.30" fill="#161616"/>
<line x1="316.30" y1="250.20" x2="316.30" y2="355.00" stroke="#fff" stroke-width="1.1" stroke-dasharray="1.0 1.1"/>
<rect x="351.23" y="226.14" width="4.0" height="107.30" fill="#161616"/>
<line x1="354.03" y1="227.64" x2="354.03" y2="332.44" stroke="#fff" stroke-width="1.1" stroke-dasharray="1.0 1.1"/>
<rect x="388.96" y="203.58" width="4.0" height="107.30" fill="#161616"/>
<line x1="391.76" y1="205.08" x2="391.76" y2="309.88" stroke="#fff" stroke-width="1.1" stroke-dasharray="1.0 1.1"/>
<rect x="426.69" y="181.02" width="4.0" height="107.30" fill="#161616"/>
<line x1="429.49" y1="182.52" x2="429.49" y2="287.32" stroke="#fff" stroke-width="1.1" stroke-dasharray="1.0 1.1"/>
<circle cx="336.03" cy="216.44" r="1.2" fill="#111"/>
<circle cx="373.76" cy="193.88" r="1.2" fill="#111"/>
<circle cx="411.49" cy="171.32" r="1.2" fill="#111"/>
<polygon points="274.2,450.3 300.9,434.2 435.8,513.6 409.1,529.6" fill="#fff" stroke="none"/>
<path d="M409.10,529.60 L274.20,450.30 L300.90,434.20 L435.80,513.60" fill="#fff" stroke="#111" stroke-width="0.95" stroke-linejoin="round"/>
<path d="M409.10,529.60 L435.80,513.60" stroke="#fff" stroke-width="0"/>
<polygon points="285.00,443.60 291.70,439.20 425.80,519.60 418.90,523.60" fill="#1a1a1a" stroke="#1a1a1a" stroke-width="0.5" stroke-linejoin="round" />
<line x1="287.15" y1="441.79" x2="421.11" y2="521.91" stroke="#9a9a9a" stroke-width="0.45" stroke-dasharray="0.6 0.9"/>
<line x1="288.77" y1="440.86" x2="422.79" y2="521.08" stroke="#9a9a9a" stroke-width="0.45" stroke-dasharray="0.6 0.9"/>
<line x1="290.27" y1="440.01" x2="424.33" y2="520.33" stroke="#9a9a9a" stroke-width="0.45" stroke-dasharray="0.6 0.9"/>
<polygon points="355.7,402.1 382.3,386.3 517.2,465.7 490.5,481.5" fill="#fff" stroke="none"/>
<path d="M490.50,481.50 L355.70,402.10 L382.30,386.30 L517.20,465.70" fill="#fff" stroke="#111" stroke-width="0.95" stroke-linejoin="round"/>
<path d="M490.50,481.50 L517.20,465.70" stroke="#fff" stroke-width="0"/>
<line x1="367.40" y1="394.40" x2="501.90" y2="474.00" stroke="#161616" stroke-width="2.3" />
<line x1="367.40" y1="394.40" x2="501.90" y2="474.00" stroke="#bbb" stroke-width="0.6" stroke-dasharray="0.6 1.0"/>
<line x1="372.00" y1="391.00" x2="506.70" y2="471.30" stroke="#111" stroke-width="1.9" />
<polygon points="424.5,361.4 451.0,345.5 585.6,425.5 558.6,441.1" fill="#fff" stroke="none"/>
<path d="M558.60,441.10 L424.50,361.40 L451.00,345.50 L585.60,425.50" fill="#fff" stroke="#111" stroke-width="0.95" stroke-linejoin="round"/>
<path d="M558.60,441.10 L585.60,425.50" stroke="#fff" stroke-width="0"/>
<line x1="436.20" y1="353.60" x2="570.00" y2="433.70" stroke="#161616" stroke-width="2.4" />
<line x1="436.20" y1="353.60" x2="570.00" y2="433.70" stroke="#bbb" stroke-width="0.6" stroke-dasharray="0.6 1.0"/>
<line x1="441.30" y1="350.40" x2="574.70" y2="431.00" stroke="#111" stroke-width="2.2" />
<g fill="none" stroke="#1a1a1a" stroke-width="0.85"><path d="M421,535.6 H444.5"/><rect x="428.8" y="528.6" width="7.9" height="7.0"/><path d="M421.9,535.4 V529.6 Q421.9,528.6 420.7,528.6 Q419.5,528.6 419.5,529.6 V535.4 Q419.5,536.4 420.7,536.4 Q421.9,536.4 421.9,535.4"/><path d="M424.7,531.2 V540.4 M440.4,531.2 V539.5"/><path d="M444.6,528.9 V535.3 Q444.6,536.4 443.6,536.4 Q442.9,536.4 442.6,535.7"/></g>
<g fill="none" stroke="#222" stroke-width="0.8"><rect x="506.6" y="482.9" width="18.8" height="7.9"/><path d="M506.6,483.1 H525.4" stroke-width="1.4"/><path d="M509.4,479.2 V494.9 M521.4,479.2 V494.9"/></g>
<g fill="none" stroke="#222" stroke-width="0.8"><rect x="571.8" y="442.5" width="19.0" height="7.9"/><path d="M571.8,442.7 H590.8" stroke-width="1.4"/><path d="M575.5,438.2 V454.3 M586.5,438.2 V454.3"/></g>
<polygon points="277.20,425.20 428.10,335.70 428.10,341.90 277.20,431.40" fill="#fff" stroke="#111" stroke-width="1.0" stroke-linejoin="round" />
<polygon points="277.20,425.20 428.10,335.70 408.70,324.60 257.80,414.10" fill="#fff" stroke="#111" stroke-width="1.0" stroke-linejoin="round" />
<line x1="259.16" y1="414.88" x2="406.29" y2="327.61" stroke="#111" stroke-width="1.0" />
<line x1="406.29" y1="327.61" x2="424.33" y2="337.94" stroke="#111" stroke-width="0.9" />
<line x1="408.70" y1="324.60" x2="408.70" y2="332.60" stroke="#111" stroke-width="0.9" />
<polygon points="278.47,422.41 344.11,383.48 331.89,376.49 266.25,415.42" fill="none" stroke="#111" stroke-width="1.0" stroke-linejoin="round" />
<polyline points="279.98,421.52 269.02,415.24 331.64,378.10 342.60,384.37" fill="none" stroke="#1a1a1a" stroke-width="0.85" />
<polygon points="353.92,377.66 409.75,344.55 397.53,337.55 341.70,370.67" fill="none" stroke="#111" stroke-width="1.0" stroke-linejoin="round" />
<polyline points="355.43,376.77 344.47,370.49 397.28,339.17 408.25,345.44" fill="none" stroke="#1a1a1a" stroke-width="0.85" />
<line x1="346.08" y1="382.31" x2="330.36" y2="373.32" stroke="#222" stroke-width="1.19" stroke-dasharray="0.7 0.7"/>
<line x1="346.50" y1="381.58" x2="330.78" y2="372.59" stroke="#111" stroke-width="0.8" />
<line x1="345.65" y1="383.05" x2="329.94" y2="374.06" stroke="#111" stroke-width="0.8" />
<line x1="351.66" y1="379.00" x2="335.94" y2="370.01" stroke="#222" stroke-width="1.19" stroke-dasharray="0.7 0.7"/>
<line x1="352.08" y1="378.27" x2="336.37" y2="369.27" stroke="#111" stroke-width="0.8" />
<line x1="351.24" y1="379.74" x2="335.52" y2="370.75" stroke="#111" stroke-width="0.8" />
<line x1="412.02" y1="343.20" x2="396.30" y2="334.21" stroke="#222" stroke-width="1.19" stroke-dasharray="0.7 0.7"/>
<line x1="412.44" y1="342.47" x2="396.73" y2="333.47" stroke="#111" stroke-width="0.8" />
<line x1="411.60" y1="343.94" x2="395.88" y2="334.95" stroke="#111" stroke-width="0.8" />
<line x1="415.79" y1="340.97" x2="400.08" y2="331.97" stroke="#222" stroke-width="1.19" stroke-dasharray="0.7 0.7"/>
<line x1="416.21" y1="340.23" x2="400.50" y2="331.24" stroke="#111" stroke-width="0.8" />
<line x1="415.37" y1="341.70" x2="399.65" y2="332.71" stroke="#111" stroke-width="0.8" />
<line x1="419.56" y1="338.73" x2="403.85" y2="329.74" stroke="#222" stroke-width="1.19" stroke-dasharray="0.7 0.7"/>
<line x1="419.99" y1="337.99" x2="404.27" y2="329.00" stroke="#111" stroke-width="0.8" />
<line x1="419.14" y1="339.47" x2="403.43" y2="330.48" stroke="#111" stroke-width="0.8" />
<line x1="276.66" y1="423.48" x2="260.95" y2="414.49" stroke="#333" stroke-width="0.9799999999999999" stroke-dasharray="0.7 0.7"/>
<line x1="277.01" y1="422.88" x2="261.29" y2="413.89" stroke="#111" stroke-width="0.6" />
<line x1="276.31" y1="424.09" x2="260.60" y2="415.10" stroke="#111" stroke-width="0.6" />
<polygon points="255.00,372.20 257.80,371.20 277.50,382.50 274.70,383.50" fill="#fff" stroke="#111" stroke-width="0.8" stroke-linejoin="round" />
<polygon points="274.70,383.50 277.50,382.50 277.50,431.40 274.70,432.30" fill="#fff" stroke="#111" stroke-width="0.8" stroke-linejoin="round" />
<polygon points="255.00,372.20 274.70,383.50 274.70,432.30 255.00,421.40" fill="#fff" stroke="#111" stroke-width="0.9" stroke-linejoin="round" />
<text x="44.90" y="25.50" font-size="10" >lamino na záda</text>
<text x="80.40" y="34.40" font-size="10" >regálu</text>
<polyline points="69.30,40.50 121.70,40.50" fill="none" stroke="#222" stroke-width="0.9" />
<line x1="121.70" y1="40.50" x2="132.90" y2="73.30" stroke="#111" stroke-width="0.8" />
<line x1="121.70" y1="40.50" x2="171.00" y2="46.70" stroke="#111" stroke-width="0.8" />
<line x1="121.70" y1="40.50" x2="202.30" y2="21.30" stroke="#111" stroke-width="0.8" />
<text x="299.00" y="44.80" font-size="10" >sestava pevného regálu</text>
<polyline points="410.70,49.90 287.40,50.10 278.30,106.00" fill="none" stroke="#222" stroke-width="0.9" />
<text x="403.20" y="127.10" font-size="10" >sestava regálu na podvozek</text>
<polyline points="525.40,132.40 401.10,132.40 393.70,188.30" fill="none" stroke="#222" stroke-width="0.9" />
<text x="100.00" y="323.70" font-size="10" >lamino na boky</text>
<text x="135.60" y="334.30" font-size="10" >regálu</text>
<polyline points="124.30,340.30 176.40,340.30 165.40,278.80" fill="none" stroke="#222" stroke-width="0.9" />
<line x1="176.40" y1="340.30" x2="274.50" y2="314.50" stroke="#111" stroke-width="0.9" />
<text x="200.80" y="445.70" font-size="10" >podvozek</text>
<polyline points="197.20,451.40 249.00,451.40 266.40,410.10" fill="none" stroke="#222" stroke-width="0.9" />
<text x="608.60" y="381.40" font-size="10" >nášlapné klíny</text>
<polyline points="672.20,386.50 603.10,386.70 525.40,411.70" fill="none" stroke="#222" stroke-width="0.9" />
<line x1="603.10" y1="386.70" x2="561.00" y2="413.00" stroke="#111" stroke-width="0.9" />
<text x="626.60" y="488.60" font-size="10" >hladká kolej</text>
<polyline points="684.30,494.00 615.90,494.00 580.80,445.30" fill="none" stroke="#222" stroke-width="0.9" />
<text x="563.30" y="529.00" font-size="10" >hladká kolej</text>
<polyline points="621.40,534.60 552.20,534.60 517.10,485.70" fill="none" stroke="#222" stroke-width="0.9" />
<text x="491.60" y="553.90" font-size="10" >vodící kolej</text>
<polyline points="547.40,559.20 477.20,559.20 433.40,536.60" fill="none" stroke="#222" stroke-width="0.9" />
<text x="14.60" y="561.60" font-size="13.85" >Sestava pojízdného policového regálu</text>
</svg></body></html>
